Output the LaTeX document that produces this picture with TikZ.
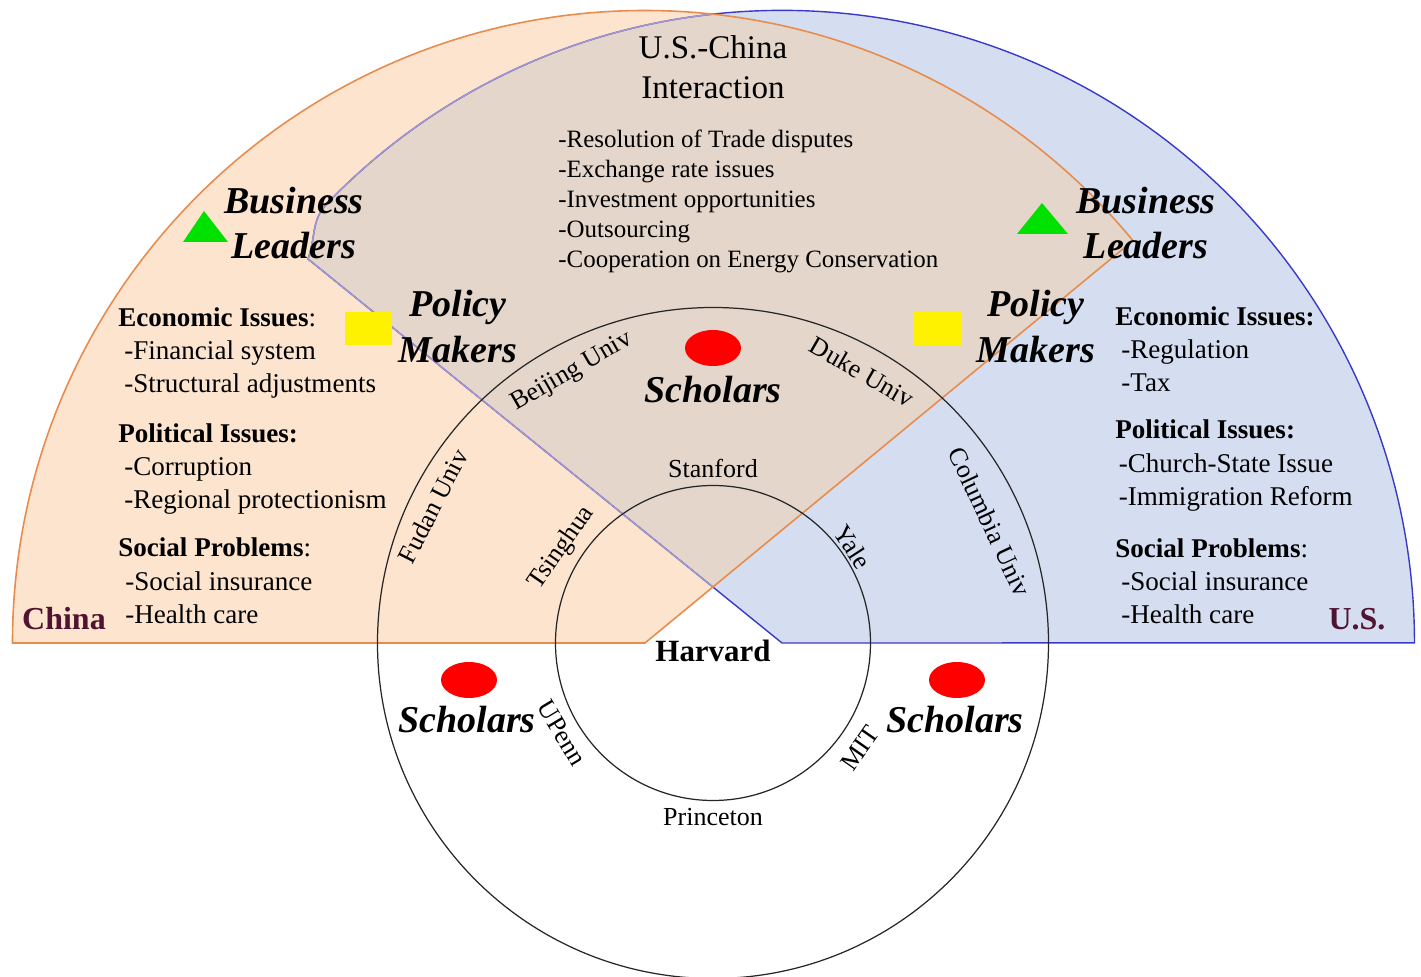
\documentclass[tikz,border=0pt]{standalone}
\usepackage{fontspec}
\setmainfont{Liberation Serif}

\definecolor{cnfill}{RGB}{252,228,206}
\definecolor{usfill}{RGB}{213,222,240}
\definecolor{bothfill}{RGB}{228,214,202}
\definecolor{cnline}{RGB}{232,140,78}
\definecolor{usline}{RGB}{58,58,200}
\definecolor{cnmaroon}{RGB}{80,20,50}
\definecolor{leafgreen}{RGB}{0,225,0}

\newcommand{\cnsector}{(-1.36,0) -- (-14.01,0) arc[start angle=180, end angle=39.5, radius=12.65] -- cycle}
\newcommand{\ussector}{(1.38,0) -- (-8.10,7.68) to[out=70, in=226] (-7.72,8.79) arc[start angle=136, end angle=0, radius=12.65] -- cycle}

\begin{document}
\begin{tikzpicture}[
  side/.style = {anchor=north west, align=left, inner sep=0pt, font=\fontsize{15.4}{18.9}\selectfont},
  actor/.style = {align=center, inner sep=0pt, font=\fontsize{21.6}{26}\selectfont\bfseries\itshape},
  uni/.style = {inner sep=0pt, font=\fontsize{14.8}{17}\selectfont},
  country/.style = {inner sep=0pt, text=cnmaroon, font=\fontsize{18.2}{20}\selectfont\bfseries},
  ring/.style = {draw=black!85, line width=0.7pt}
]
\useasboundingbox (-14.26,-6.68) rectangle (14.16,12.86);
%\draw [help lines] (-14, -6) grid (14, 12);
% the two fans
\fill [cnfill] \cnsector;
\fill [usfill] \ussector;
\begin{scope}
  \clip \cnsector;
  \fill [bothfill] \ussector;
\end{scope}
\draw [usline, line width=0.8pt] \ussector;
\begin{scope}
  \clip \cnsector;
  \draw [usline!45!cnfill, line width=0.8pt] \ussector;
\end{scope}
\draw [cnline, line width=0.9pt] \cnsector;
% universities
\draw [ring] (0, 0) circle [radius=6.71];
\draw [ring] (0, 0) circle [radius=3.15];
\node [uni, rotate=30] (beijing) at (-2.82, 5.42) {Beijing Univ};
\node [uni, rotate=-30] (duke) at (2.98, 5.42) {Duke Univ};
\node [uni, rotate=63] (fudan) at (-5.6, 2.74) {Fudan Univ};
\node [uni, rotate=-65] (columbia) at (5.54, 2.42) {Columbia Univ};
\node [uni, rotate=55] (tsinghua) at (-3.02, 1.9) {Tsinghua};
\node [uni, rotate=-57] (yale) at (2.8, 1.92) {Yale};
\node [uni, rotate=-59] (upenn) at (-3.02, -1.8) {UPenn};
\node [uni, rotate=55] (mit) at (2.94, -2.1) {MIT};
\node [uni] (stanford) at (0, 3.5) {Stanford};
\node [uni] (princeton) at (0, -3.48) {Princeton};
\node [inner sep=0pt, font=\fontsize{17.6}{20}\selectfont\bfseries] (harvard) at (0, -0.16) {Harvard};
% markers
\fill [leafgreen] (-10.18, 8.64) -- (-10.6, 8.02) -- (-9.7, 8.02) -- cycle;
\fill [leafgreen] (6.58, 8.8) -- (6.08, 8.18) -- (7.1, 8.18) -- cycle;
\fill [yellow] (-7.36, 5.96) rectangle (-6.42, 6.62);
\fill [yellow] (4.0, 5.96) rectangle (4.98, 6.62);
\fill [red] (0, 5.9) ellipse [x radius=0.56, y radius=0.36];
\fill [red] (-4.88, -0.74) ellipse [x radius=0.56, y radius=0.36];
\fill [red] (4.88, -0.74) ellipse [x radius=0.56, y radius=0.36];
% actors
\node [actor] (cnbiz) at (-8.38, 8.4) {Business\\Leaders};
\node [actor] (usbiz) at (8.66, 8.4) {Business\\Leaders};
\node [actor] (cnpolicy) at (-5.1, 6.33) {Policy\\Makers};
\node [actor] (uspolicy) at (6.46, 6.33) {Policy\\Makers};
\node [actor] (midscholars) at (0, 5.06) {Scholars};
\node [actor] (cnscholars) at (-4.92, -1.54) {Scholars};
\node [actor] (usscholars) at (4.84, -1.54) {Scholars};
% interaction
\node [align=center, inner sep=0pt, font=\fontsize{18.8}{22.8}\selectfont] (title) at (0, 11.52) {U.S.-China\\Interaction};
\node [anchor=north west, align=left, inner sep=0pt, font=\fontsize{14.2}{17.1}\selectfont] (topics) at (-3.1, 10.27) {-Resolution of Trade disputes\\
-Exchange rate issues\\
-Investment opportunities\\
-Outsourcing\\
-Cooperation on Energy Conservation};
% issues of each side
\node [side] (cnissues) at (-11.9, 6.72) {\textbf{Economic Issues}:\\
\hspace*{3.4pt}-Financial system\\
\hspace*{3.4pt}-Structural adjustments\\[9.5pt]
\textbf{Political Issues:}\\
\hspace*{3.4pt}-Corruption\\
\hspace*{3.4pt}-Regional protectionism\\[8.4pt]
\textbf{Social Problems}:\\
\hspace*{4pt}-Social insurance\\
\hspace*{4pt}-Health care};
\node [side] (usissues) at (8.04, 6.74) {\textbf{Economic Issues:}\\
\hspace*{3.4pt}-Regulation\\
\hspace*{3.4pt}-Tax\\[8pt]
\textbf{Political Issues:}\\
\hspace*{2pt}-Church-State Issue\\
\hspace*{2pt}-Immigration Reform\\[10.7pt]
\textbf{Social Problems}:\\
\hspace*{3.4pt}-Social insurance\\
\hspace*{3.4pt}-Health care};
\node [country] (china) at (-12.98, 0.48) {China};
\node [country] (us) at (12.88, 0.48) {U.S.};
\end{tikzpicture}
\end{document}
